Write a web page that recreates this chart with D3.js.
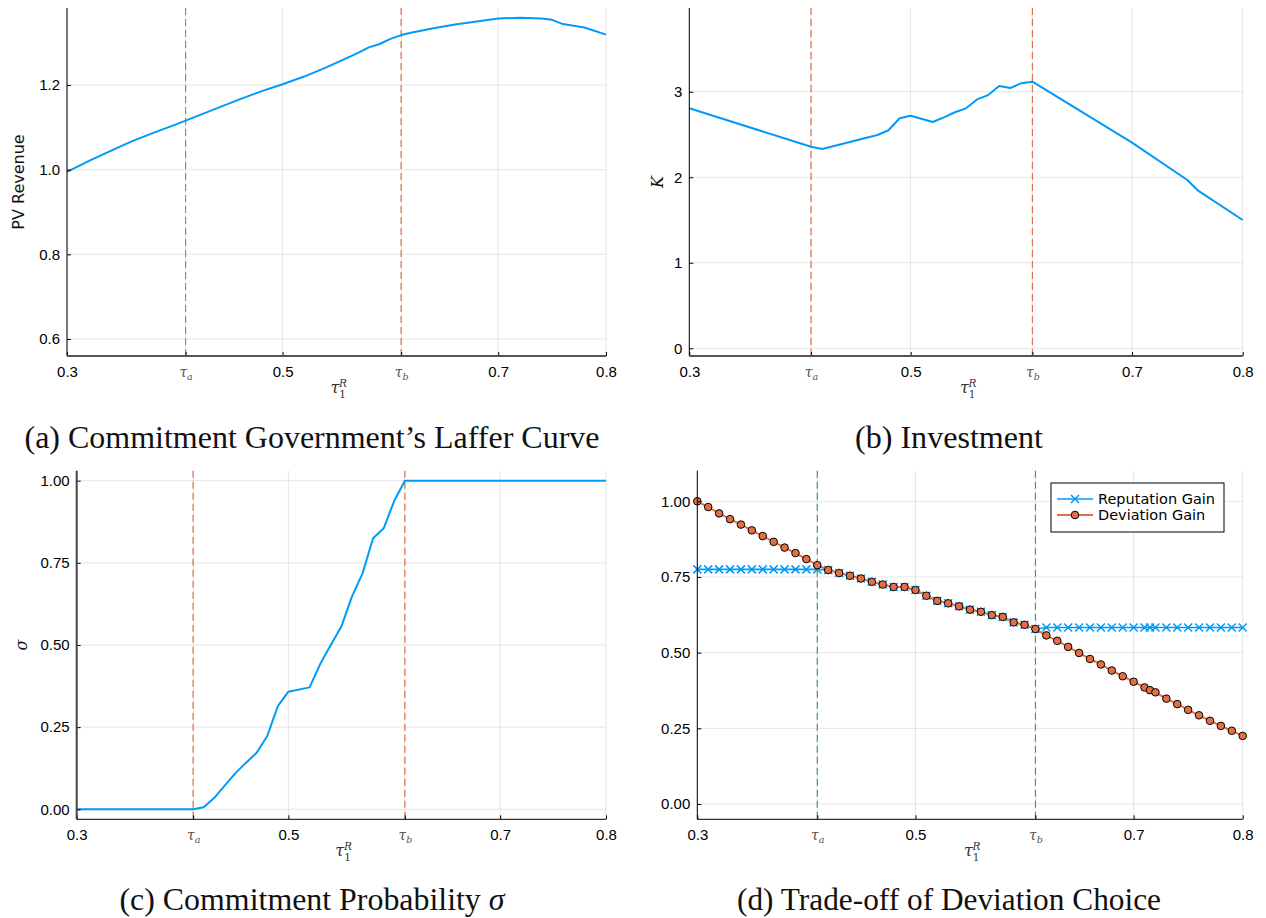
<!doctype html>
<html lang="en">
<head>
<meta charset="utf-8" />
<title>Commitment panels</title>
<style>
  html, body { margin: 0; padding: 0; background: #fff; }
  svg { display: block; font-family: "DejaVu Sans", sans-serif; }
  .tick text { font-size: 15px; fill: #000; }
  .sub { font-family: "Liberation Serif", serif; font-size: 32px; fill: #111; }
</style>
</head>
<body>
<svg id="fig" width="1266" height="918"></svg>
<script src="https://cdn.jsdelivr.net/npm/d3@7/dist/d3.min.js"></script>
<script>
// thresholds and x ticks shared by all four panels
const tauA = 0.41, tauB = 0.61;
const xTicks = [0.3, tauA, 0.5, tauB, 0.7, 0.8];
const xTickLabels = ['0.3', 'a', '0.5', 'b', '0.7', '0.8']; // letters = tau subscripts

// (a) PV revenue
const revX = [0.30, 0.32, 0.34, 0.36, 0.38, 0.40, 0.42, 0.44, 0.46, 0.48, 0.50, 0.52, 0.54, 0.56, 0.57, 0.58, 0.59, 0.60, 0.61, 0.62, 0.64, 0.66, 0.68, 0.70, 0.72, 0.74, 0.75, 0.76, 0.78, 0.80];
const revY = [0.995, 1.020, 1.044, 1.067, 1.087, 1.106, 1.126, 1.146, 1.166, 1.185, 1.202, 1.220, 1.241, 1.264, 1.276, 1.289, 1.297, 1.309, 1.318, 1.324, 1.334, 1.343, 1.350, 1.357, 1.359, 1.357, 1.354, 1.344, 1.336, 1.319];

// (b) investment K
const invX = [0.30, 0.41, 0.42, 0.47, 0.48, 0.49, 0.50, 0.52, 0.53, 0.54, 0.55, 0.56, 0.57, 0.58, 0.59, 0.60, 0.61, 0.70, 0.75, 0.76, 0.80];
const invY = [2.806, 2.357, 2.330, 2.494, 2.550, 2.690, 2.720, 2.646, 2.700, 2.760, 2.806, 2.910, 2.961, 3.066, 3.043, 3.100, 3.117, 2.404, 1.968, 1.840, 1.500];

// (c) commitment probability sigma
const sigX = [0.30, 0.41, 0.42, 0.43, 0.44, 0.45, 0.46, 0.47, 0.48, 0.49, 0.50, 0.52, 0.53, 0.54, 0.55, 0.56, 0.57, 0.58, 0.59, 0.60, 0.61, 0.80];
const sigY = [0, 0, 0.006, 0.035, 0.073, 0.110, 0.142, 0.172, 0.223, 0.314, 0.358, 0.371, 0.442, 0.500, 0.556, 0.647, 0.718, 0.825, 0.855, 0.939, 1.0, 1.0];

// (d) trade-off
const tradeX = [0.30, 0.31, 0.32, 0.33, 0.34, 0.35, 0.36, 0.37, 0.38, 0.39, 0.40, 0.41, 0.42, 0.43, 0.44, 0.45, 0.46, 0.47, 0.48, 0.49, 0.50, 0.51, 0.52, 0.53, 0.54, 0.55, 0.56, 0.57, 0.58, 0.59, 0.60, 0.61, 0.62, 0.63, 0.64, 0.65, 0.66, 0.67, 0.68, 0.69, 0.70, 0.71, 0.715, 0.72, 0.73, 0.74, 0.75, 0.76, 0.77, 0.78, 0.79, 0.80];
const devGain = [1.000, 0.981, 0.960, 0.941, 0.923, 0.904, 0.885, 0.866, 0.847, 0.829, 0.809, 0.789, 0.773, 0.763, 0.754, 0.745, 0.734, 0.725, 0.717, 0.717, 0.707, 0.688, 0.671, 0.663, 0.653, 0.642, 0.635, 0.624, 0.618, 0.600, 0.592, 0.578, 0.557, 0.539, 0.519, 0.499, 0.479, 0.461, 0.441, 0.422, 0.404, 0.385, 0.376, 0.369, 0.348, 0.330, 0.311, 0.293, 0.275, 0.258, 0.242, 0.225];
const repGain = [0.775, 0.775, 0.775, 0.775, 0.775, 0.775, 0.775, 0.775, 0.775, 0.775, 0.775, 0.775, 0.773, 0.763, 0.754, 0.745, 0.734, 0.725, 0.717, 0.717, 0.707, 0.688, 0.671, 0.663, 0.653, 0.642, 0.635, 0.624, 0.618, 0.600, 0.592, 0.578, 0.583, 0.583, 0.583, 0.583, 0.583, 0.583, 0.583, 0.583, 0.583, 0.583, 0.583, 0.583, 0.583, 0.583, 0.583, 0.583, 0.583, 0.583, 0.583, 0.583];
const legendNames = ['Reputation Gain', 'Deviation Gain'];

const BLUE = '#009af9', ORANGE = '#e26f46', GREEN = '#3ea44e';
const svg = d3.select('#fig');
const pairs = (xs, ys) => xs.map((v, i) => [v, ys[i]]);

function panel(o) {
  const g = svg.append('g');
  const x = d3.scaleLinear().domain([0.3, 0.8]).range([o.x0, o.x1]);
  const y = d3.scaleLinear().domain(o.yDomain).range([o.y1, o.y0]);

  // grid
  g.append('g').selectAll('line').data(xTicks).join('line')
    .attr('x1', d => x(d)).attr('x2', d => x(d)).attr('y1', o.y0).attr('y2', o.y1)
    .attr('stroke', '#000').attr('stroke-opacity', 0.1);
  g.append('g').selectAll('line').data(o.yTicks).join('line')
    .attr('x1', o.x0).attr('x2', o.x1).attr('y1', d => y(d)).attr('y2', d => y(d))
    .attr('stroke', '#000').attr('stroke-opacity', 0.1);

  // tau_a, tau_b markers
  g.append('g').selectAll('line').data([tauA, tauB]).join('line')
    .attr('x1', d => x(d)).attr('x2', d => x(d)).attr('y1', o.y0).attr('y2', o.y1)
    .attr('stroke', o.dash).attr('stroke-width', 1.2).attr('stroke-dasharray', '7,4');

  o.draw(g, x, y);

  // axes
  const xa = g.append('g').attr('transform', `translate(0,${o.y1})`)
    .call(d3.axisBottom(x).tickValues(xTicks).tickSizeInner(-4).tickSizeOuter(0).tickPadding(10));
  xa.select('.domain').remove();
  xa.selectAll('.tick line').attr('stroke', '#000');
  xa.selectAll('.tick text').each(function (d, i) {
    const t = d3.select(this).text(null);
    const lab = xTickLabels[i];
    if (lab.length === 1) {
      t.append('tspan').attr('font-family', 'DejaVu Serif').attr('font-style', 'italic')
        .attr('fill', '#555').attr('font-size', '14px').text('τ');
      t.append('tspan').attr('font-family', 'DejaVu Serif').attr('font-style', 'italic')
        .attr('fill', '#555').attr('font-size', '9.5px').attr('dy', 3).text(lab);
    } else t.text(lab);
  });

  const ya = g.append('g').attr('transform', `translate(${o.x0},0)`)
    .call(d3.axisLeft(y).tickValues(o.yTicks).tickFormat(d3.format(o.fmt)).tickSizeInner(-4).tickSizeOuter(0).tickPadding(7));
  ya.select('.domain').remove();
  ya.selectAll('.tick line').attr('stroke', '#000');

  g.append('line').attr('x1', o.x0).attr('x2', o.x0).attr('y1', o.y0).attr('y2', o.y1)
    .attr('stroke', o.leftCol || '#000').attr('stroke-width', o.leftW || 1);
  g.append('line').attr('x1', o.x0).attr('x2', o.x1).attr('y1', o.y1).attr('y2', o.y1)
    .attr('stroke', o.botCol || '#000').attr('stroke-width', o.botW || 1);

  // x label tau_1^R
  const cx = (o.x0 + o.x1) / 2, by = o.y1 + 37;
  const xl = g.append('text').attr('x', cx - 6).attr('y', by).attr('fill', '#333')
    .attr('font-family', 'DejaVu Serif').attr('font-style', 'italic').attr('text-anchor', 'start');
  xl.append('tspan').attr('font-size', '16px').text('τ');
  xl.append('tspan').attr('font-size', '10.5px').attr('font-style', 'normal').attr('dy', 5).text('1');
  xl.append('tspan').attr('font-size', '10.5px').attr('dx', -7).attr('dy', -11).text('R');

  // y label
  if (o.ylab) {
    g.append('text').attr('transform', `translate(${o.ylabX},${(o.y0 + o.y1) / 2}) rotate(-90)`)
      .attr('text-anchor', 'middle').attr('dominant-baseline', 'central')
      .attr('font-family', o.ylabSerif ? 'DejaVu Serif' : 'DejaVu Sans')
      .attr('font-style', o.ylabSerif ? 'italic' : 'normal')
      .attr('font-size', '16px').attr('fill', '#111').text(o.ylab);
  }

  // subtitle
  svg.append('text').attr('class', 'sub').attr('x', o.subX).attr('y', o.subY)
    .attr('text-anchor', 'middle').attr('textLength', o.subW).attr('lengthAdjust', 'spacingAndGlyphs')
    .html(o.sub);
}

function curve(xs, ys) {
  return (g, x, y) => g.append('path').datum(pairs(xs, ys))
    .attr('fill', 'none').attr('stroke', BLUE).attr('stroke-width', 2)
    .attr('stroke-linejoin', 'round')
    .attr('d', d3.line().x(d => x(d[0])).y(d => y(d[1])));
}

const xMark = 'M-4,-4L4,4M-4,4L4,-4';

panel({
  x0: 67, x1: 606, y0: 8, y1: 356, yDomain: [0.5598, 1.382], yTicks: [0.6, 0.8, 1.0, 1.2], fmt: '.1f',
  dash: ORANGE, botCol: '#555', botW: 2, ylab: 'PV Revenue', ylabX: 18.5,
  sub: '(a) Commitment Government’s Laffer Curve', subX: 312, subY: 448, subW: 575,
  draw: curve(revX, revY)
});

panel({
  x0: 689.3, x1: 1242.7, y0: 8, y1: 356, yDomain: [-0.09, 3.979], yTicks: [0, 1, 2, 3], fmt: 'd',
  dash: ORANGE, botCol: '#555', botW: 2, ylab: 'K', ylabX: 657, ylabSerif: true,
  sub: '(b) Investment', subX: 949, subY: 448, subW: 188,
  draw: curve(invX, invY)
});

panel({
  x0: 76.7, x1: 606, y0: 470.7, y1: 819.3, yDomain: [-0.0304, 1.0304], yTicks: [0, 0.25, 0.5, 0.75, 1], fmt: '.2f',
  dash: ORANGE, leftCol: '#444', leftW: 2, ylab: 'σ', ylabX: 21, ylabSerif: true,
  sub: '(c) Commitment Probability <tspan font-style="italic">σ</tspan>', subX: 312, subY: 910, subW: 385,
  draw: curve(sigX, sigY)
});

panel({
  x0: 697.3, x1: 1242.7, y0: 470.7, y1: 819.3, yDomain: [-0.0505, 1.101], yTicks: [0, 0.25, 0.5, 0.75, 1], fmt: '.2f',
  dash: GREEN,
  sub: '(d) Trade-off of Deviation Choice', subX: 949, subY: 910, subW: 424,
  draw: (g, x, y) => {
    const line = d3.line().x(d => x(d[0])).y(d => y(d[1]));
    const rep = pairs(tradeX, repGain), dev = pairs(tradeX, devGain);
    g.append('path').datum(rep).attr('fill', 'none').attr('stroke', BLUE).attr('stroke-width', 1.6).attr('d', line);
    g.append('g').selectAll('path').data(rep).join('path')
      .attr('transform', d => `translate(${x(d[0])},${y(d[1])})`)
      .attr('d', xMark).attr('stroke', BLUE).attr('stroke-width', 1.5).attr('fill', 'none');
    g.append('path').datum(dev).attr('fill', 'none').attr('stroke', ORANGE).attr('stroke-width', 2).attr('d', line);
    g.append('g').selectAll('circle').data(dev).join('circle')
      .attr('cx', d => x(d[0])).attr('cy', d => y(d[1])).attr('r', 3.8)
      .attr('fill', ORANGE).attr('stroke', '#000').attr('stroke-width', 1);

    // legend
    const lg = svg.append('g').attr('transform', 'translate(1051,483)');
    lg.append('rect').attr('width', 173).attr('height', 49).attr('fill', '#fff').attr('stroke', '#000').attr('stroke-width', 1);
    legendNames.forEach((name, i) => {
      const yy = 16 + i * 16;
      const col = i === 0 ? BLUE : ORANGE;
      lg.append('line').attr('x1', 6).attr('x2', 42).attr('y1', yy).attr('y2', yy).attr('stroke', col).attr('stroke-width', i === 0 ? 1.6 : 2);
      if (i === 0) lg.append('path').attr('transform', `translate(24,${yy})`).attr('d', xMark).attr('stroke', BLUE).attr('stroke-width', 1.5);
      else lg.append('circle').attr('cx', 24).attr('cy', yy).attr('r', 3.8).attr('fill', ORANGE).attr('stroke', '#000');
      lg.append('text').attr('x', 47).attr('y', yy).attr('dominant-baseline', 'central')
        .attr('font-size', '14.5px').attr('fill', '#000').text(name);
    });
  }
});
</script>
</body>
</html>
